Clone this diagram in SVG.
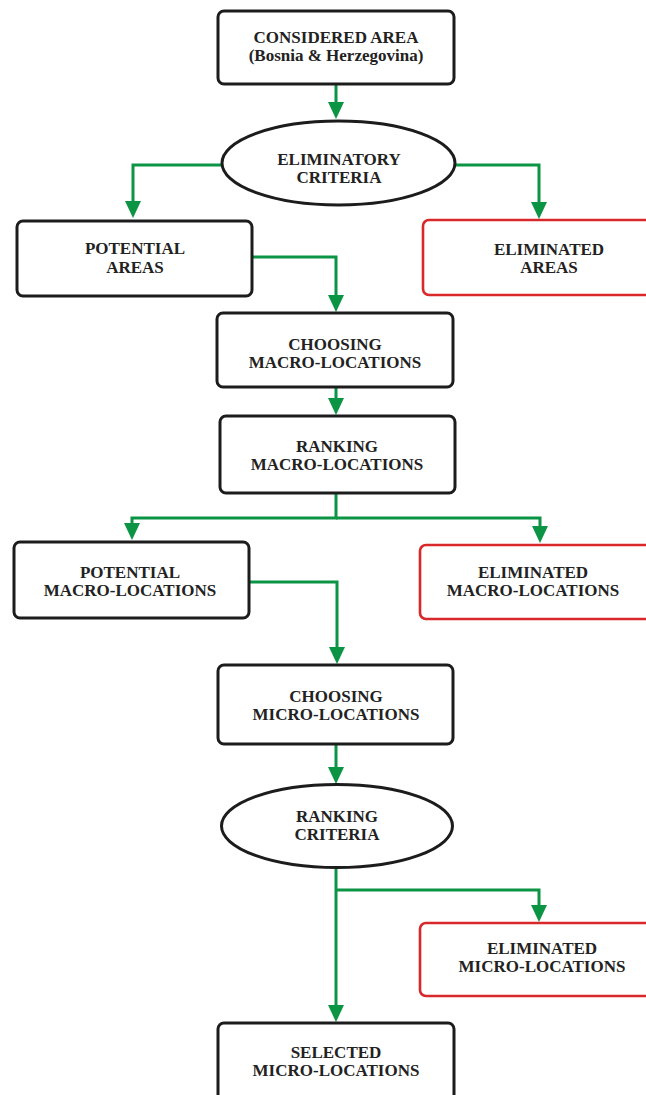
<svg xmlns="http://www.w3.org/2000/svg" width="646" height="1095" viewBox="0 0 646 1095">
<style>
.box{fill:#fff;stroke:#1c1c1c;stroke-width:3}
.red{fill:#fff;stroke:#d8282a;stroke-width:2.6}
.conn{fill:none;stroke:#0b9444;stroke-width:3}
text{font-family:"Liberation Serif","Times New Roman",serif;font-weight:bold;font-size:17px;fill:#222;text-anchor:middle}
</style>
<defs>
<marker id="arr" viewBox="0 0 17 16" refX="11" refY="8" markerWidth="17" markerHeight="16" markerUnits="userSpaceOnUse" orient="auto">
<path d="M0,0 L17,8 L0,16 z" fill="#0b9444"/>
</marker>
</defs>
<rect width="646" height="1095" fill="#fff"/>
<g id="connectors">
<path class="conn" d="M336,84 V113" marker-end="url(#arr)"/>
<path class="conn" d="M223,165 H133 V212" marker-end="url(#arr)"/>
<path class="conn" d="M454,165 H539 V213" marker-end="url(#arr)"/>
<path class="conn" d="M252,257 H336 V306" marker-end="url(#arr)"/>
<path class="conn" d="M336,387 V409" marker-end="url(#arr)"/>
<path class="conn" d="M336,493 V518 H132 V534" marker-end="url(#arr)"/>
<path class="conn" d="M336,518 H540 V537" marker-end="url(#arr)"/>
<path class="conn" d="M249,582 H337 V658" marker-end="url(#arr)"/>
<path class="conn" d="M336,744 V778" marker-end="url(#arr)"/>
<path class="conn" d="M336,868 V1016" marker-end="url(#arr)"/>
<path class="conn" d="M336,890 H539 V916" marker-end="url(#arr)"/>
</g>
<g id="considered-area">
<rect class="box" x="218" y="11" width="236" height="73" rx="6"/>
<text x="336" y="43">CONSIDERED AREA</text>
<text x="336" y="61">(Bosnia &amp; Herzegovina)</text>
</g>
<g id="eliminatory-criteria">
<ellipse class="box" cx="338.5" cy="163" rx="116.5" ry="42"/>
<text x="339" y="165">ELIMINATORY</text>
<text x="339" y="183">CRITERIA</text>
</g>
<g id="potential-areas">
<rect class="box" x="17" y="221" width="235" height="75" rx="6"/>
<text x="135" y="254">POTENTIAL</text>
<text x="135" y="273">AREAS</text>
</g>
<g id="eliminated-areas">
<rect class="red" x="423" y="220" width="250" height="75" rx="6"/>
<text x="549" y="255">ELIMINATED</text>
<text x="549" y="273">AREAS</text>
</g>
<g id="choosing-macro">
<rect class="box" x="217" y="313" width="236" height="74" rx="6"/>
<text x="335" y="350">CHOOSING</text>
<text x="335" y="368">MACRO-LOCATIONS</text>
</g>
<g id="ranking-macro">
<rect class="box" x="220" y="416" width="235" height="77" rx="6"/>
<text x="337" y="452">RANKING</text>
<text x="337" y="470">MACRO-LOCATIONS</text>
</g>
<g id="potential-macro">
<rect class="box" x="14" y="542" width="235" height="76" rx="6"/>
<text x="130" y="578">POTENTIAL</text>
<text x="130" y="596">MACRO-LOCATIONS</text>
</g>
<g id="eliminated-macro">
<rect class="red" x="420" y="545" width="250" height="74" rx="6"/>
<text x="533" y="578">ELIMINATED</text>
<text x="533" y="596">MACRO-LOCATIONS</text>
</g>
<g id="choosing-micro">
<rect class="box" x="218" y="665" width="235" height="79" rx="6"/>
<text x="336" y="702">CHOOSING</text>
<text x="336" y="720">MICRO-LOCATIONS</text>
</g>
<g id="ranking-criteria">
<ellipse class="box" cx="337" cy="826" rx="115.5" ry="41.5"/>
<text x="337" y="822">RANKING</text>
<text x="337" y="840">CRITERIA</text>
</g>
<g id="eliminated-micro">
<rect class="red" x="420" y="923" width="250" height="73" rx="6"/>
<text x="542" y="954">ELIMINATED</text>
<text x="542" y="972">MICRO-LOCATIONS</text>
</g>
<g id="selected-micro">
<rect class="box" x="218" y="1023" width="236" height="90" rx="6"/>
<text x="336" y="1058">SELECTED</text>
<text x="336" y="1076">MICRO-LOCATIONS</text>
</g>
</svg>
